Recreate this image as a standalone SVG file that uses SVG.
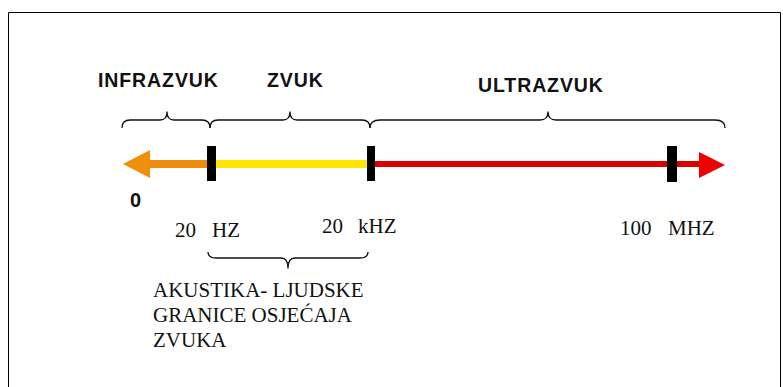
<svg xmlns="http://www.w3.org/2000/svg" width="783" height="387" viewBox="0 0 783 387">
<style>
.hd{font-family:"Liberation Sans",Arial,sans-serif;font-weight:bold;font-size:19.5px;fill:#111;letter-spacing:0.9px}
.sf{font-family:"Liberation Serif","Times New Roman",serif;font-size:21px;fill:#111}
.br{fill:none;stroke:#111;stroke-width:1.3;stroke-linejoin:round}
.tick{fill:#000}
</style>
<rect width="783" height="387" fill="#fff"/>
<path d="M8.5,387 V12.5 H780.5 V387" fill="none" stroke="#000" stroke-width="1"/>
<g id="labels-top">
<text class="hd" x="98" y="87">INFRAZVUK</text>
<text class="hd" x="267" y="87">ZVUK</text>
<text class="hd" x="478" y="92" letter-spacing="1.6">ULTRAZVUK</text>
</g>
<g id="braces">
<path class="br" d="M122,128 Q122,120 130,120 H160 Q167,120 167,112 Q167,120 174,120 H202 Q210,120 210,128"/>
<path class="br" d="M210,128 Q210,120 218,120 H283 Q290,120 290,112 Q290,120 297,120 H362 Q370,120 370,128"/>
<path class="br" d="M370,128 Q370,120 380,120 H540 Q548,120 548,112 Q548,120 556,120 H715 Q725,120 725,128"/>
<path class="br" d="M208,252 Q208,258 216,258 H281 Q288,258 288,268 Q288,258 295,258 H360 Q368,258 368,252"/>
</g>
<g id="connectors">
<rect x="150" y="160" width="60" height="8" fill="#EC8C10"/>
<polygon points="123,164 150,150 150,178" fill="#F0900A"/>
<rect x="214" y="160" width="155" height="8" fill="#FFE600"/>
<rect x="373" y="161" width="330" height="6" fill="#DD0000"/>
<polygon points="725,165 699,152 699,178" fill="#F00000"/>
</g>
<g id="tick-20hz"><rect class="tick" x="207" y="146" width="9" height="35"/></g>
<g id="tick-20khz"><rect class="tick" x="367" y="146" width="8" height="35"/></g>
<g id="tick-100mhz"><rect class="tick" x="667" y="146" width="10" height="36"/></g>
<g id="label-0"><text x="130" y="207" font-family="Liberation Sans,Arial,sans-serif" font-weight="bold" font-size="20" fill="#111">0</text></g>
<g id="label-20hz"><text class="sf" x="175" y="237">20</text><text class="sf" x="212" y="237">HZ</text></g>
<g id="label-20khz"><text class="sf" x="322" y="233">20</text><text class="sf" x="358" y="233">kHZ</text></g>
<g id="label-100mhz"><text class="sf" x="620" y="235">100</text><text class="sf" x="668" y="235">MHZ</text></g>
<g id="label-akustika">
<text class="sf" x="153" y="297" font-size="20.5">AKUSTIKA- LJUDSKE</text>
<text class="sf" x="153" y="322" font-size="20.5">GRANICE OSJEĆAJA</text>
<text class="sf" x="153" y="347" font-size="20.5">ZVUKA</text>
</g>
</svg>
